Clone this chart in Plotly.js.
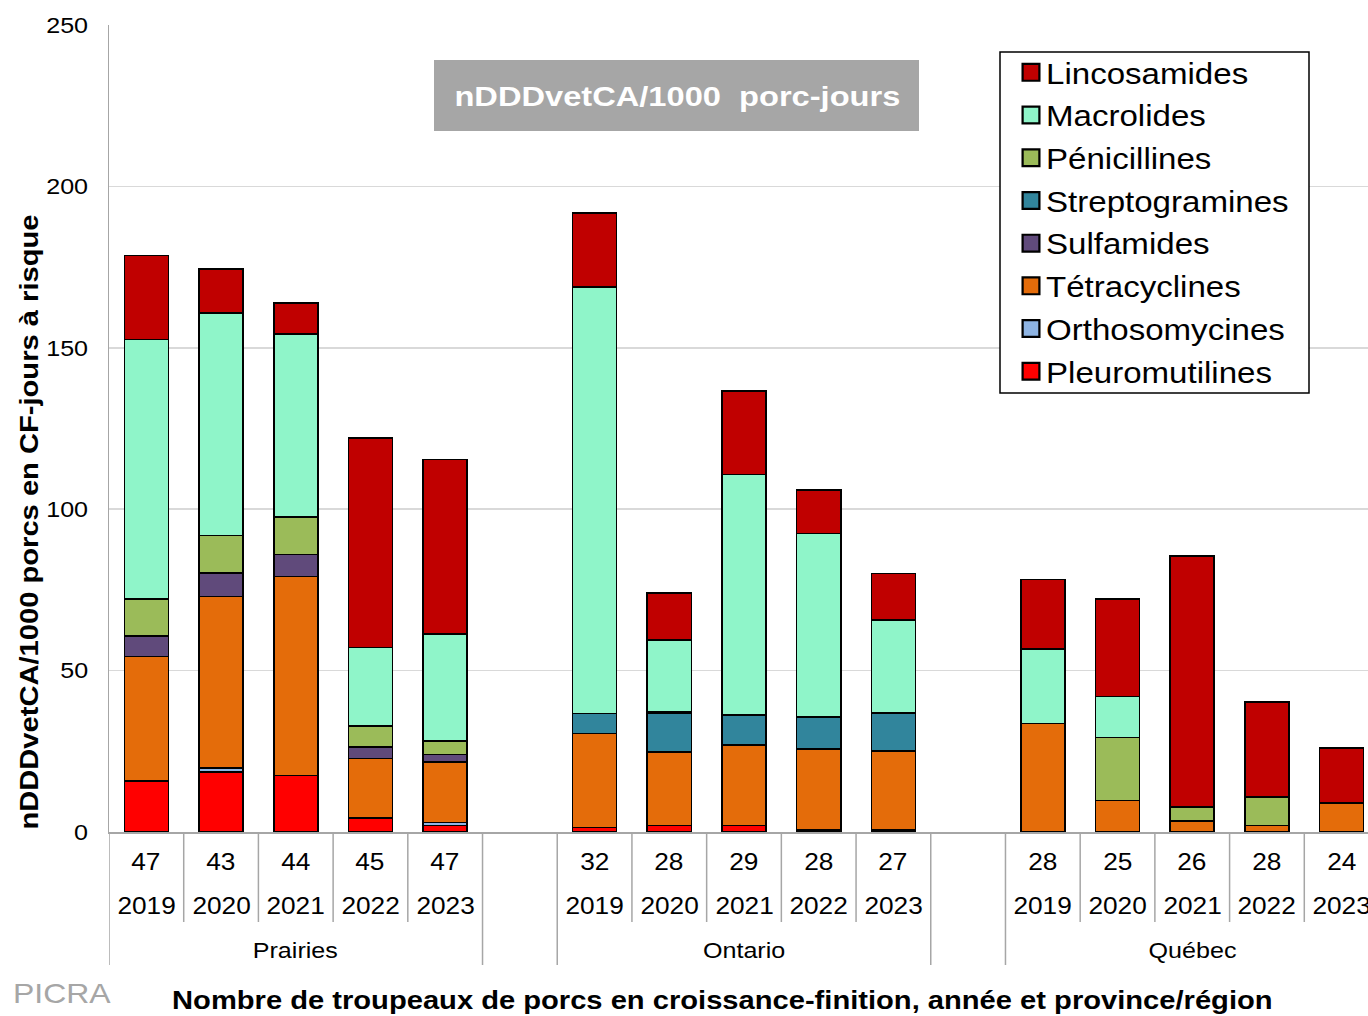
<!DOCTYPE html>
<html>
<head>
<meta charset="utf-8">
<script src="https://cdn.plot.ly/plotly-3.0.1.min.js"></script>
<style>
  html, body { margin: 0; padding: 0; overflow: hidden; background: #fff; }
  #chart { width: 1400px; height: 1016px; }
</style>
</head>
<body>
<div id="chart"></div>
<script>
// Regions, years and number of grower-finisher herds per region/year
const regions = ['Prairies', 'Ontario', 'Québec'];
const years = ['2019', '2020', '2021', '2022', '2023'];
const herds = [
  [47, 43, 44, 45, 47],
  [32, 28, 29, 28, 27],
  [28, 25, 26, 28, 24]
];

// nDDDvetCA/1000 pig-days per antimicrobial class
// order within each array: Prairies 2019-2023, Ontario 2019-2023, Québec 2019-2023
const pleuromutilines = [15.8, 18.6, 17.5, 4.4, 2.0,   1.4, 2.0, 2.0, 0.6, 0.6,   null, null, null, null, null];
const orthosomycines  = [null, 1.2, null, null, 1.0,   null, null, null, null, null,   null, null, null, null, null];
const tetracyclines   = [38.6, 53.2, 61.7, 18.4, 18.6,   29.1, 22.7, 25.0, 25.2, 24.5,   33.6, 9.7, 3.5, 2.0, 9.0];
const sulfamides      = [6.4, 7.3, 6.8, 3.6, 2.4,   null, null, null, null, null,   null, null, null, null, null];
const streptogramines = [null, null, null, null, null,   6.2, 12.1, 9.3, 9.9, 11.8,   null, null, null, null, null];
const penicillines    = [11.4, 11.6, 11.6, 6.5, 4.1,   null, 0.5, null, null, null,   null, 19.6, 4.2, 8.9, null];
const macrolides      = [80.4, 68.8, 56.7, 24.2, 33.3,   132.2, 22.1, 74.5, 56.8, 28.7,   23.1, 12.7, null, null, null];
const lincosamides    = [26.0, 13.8, 9.6, 64.9, 54.0,   22.9, 14.7, 25.9, 13.5, 14.5,   21.5, 30.1, 77.8, 29.4, 17.0];

// stacking order, bottom to top (legend lists them top to bottom)
const series = [
  { name: 'Pleuromutilines', values: pleuromutilines, color: '#ff0000' },
  { name: 'Orthosomycines',  values: orthosomycines,  color: '#8eb4e3' },
  { name: 'Tétracyclines',   values: tetracyclines,   color: '#e46c0a' },
  { name: 'Sulfamides',      values: sulfamides,      color: '#604a7b' },
  { name: 'Streptogramines', values: streptogramines, color: '#31859c' },
  { name: 'Pénicillines',    values: penicillines,    color: '#9bbb59' },
  { name: 'Macrolides',      values: macrolides,      color: '#8ff5c9' },
  { name: 'Lincosamides',    values: lincosamides,    color: '#c00000' }
];

// one empty slot between regions
const slotsPerRegion = years.length + 1;
const xPos = [];
regions.forEach((r, g) => years.forEach((y, i) => xPos.push(g * slotsPerRegion + i)));

const FONT = 'Liberation Sans, Arial, sans-serif';

const traces = series.map((s, idx) => ({
  type: 'bar',
  name: s.name,
  x: xPos,
  y: s.values,
  width: 0.59,
  legendgroup: s.name,
  legendrank: series.length - idx,
  marker: { color: s.color, line: { color: '#000', width: 1.6 } },
  hoverinfo: 'skip'
}));

// plot area: 1270 x 807 px, left edge at 109, bottom at 832
const plotLeft = 109, plotW = 1270, plotTop = 25, plotH = 807;
const px = p => (p - plotLeft) / plotW;
const py = p => (plotTop + plotH - p) / plotH;

const annotations = [];
const shapes = [];

regions.forEach((r, g) => {
  years.forEach((yr, i) => {
    const xv = g * slotsPerRegion + i;
    annotations.push({ x: xv, xref: 'x', y: py(862), yref: 'paper', text: String(herds[g][i]),
      showarrow: false, xanchor: 'center', yanchor: 'middle', font: { family: FONT, size: 23, color: '#000' } });
    annotations.push({ x: xv, xref: 'x', y: py(906), yref: 'paper', text: yr,
      showarrow: false, xanchor: 'center', yanchor: 'middle', font: { family: FONT, size: 23, color: '#000' } });
    if (i > 0) {
      shapes.push({ type: 'line', xref: 'x', yref: 'paper', x0: xv - 0.5, x1: xv - 0.5, y0: 0, y1: py(922),
        line: { color: '#a6a6a6', width: 1.5 } });
    }
  });
  const first = g * slotsPerRegion;
  annotations.push({ x: first + (years.length - 1) / 2, xref: 'x', y: py(950), yref: 'paper', text: r,
    showarrow: false, xanchor: 'center', yanchor: 'middle', font: { family: FONT, size: 22, color: '#000' } });
  [first - 0.5, first + years.length - 0.5].forEach(xv => {
    shapes.push({ type: 'line', xref: 'x', yref: 'paper', x0: xv, x1: xv, y0: 0, y1: py(965),
      line: { color: '#a6a6a6', width: 1.5 } });
  });
});

// grey title box inside the plot
shapes.push({ type: 'rect', xref: 'paper', yref: 'paper',
  x0: px(434), x1: px(919), y0: py(131), y1: py(60),
  fillcolor: '#a6a6a6', line: { width: 0 }, layer: 'above' });
annotations.push({ x: px(677), xref: 'paper', y: py(97), yref: 'paper',
  text: '<b>nDDDvetCA/1000\u00a0 porc-jours</b>', showarrow: false, xanchor: 'center', yanchor: 'middle',
  font: { family: FONT, size: 28, color: '#fff' } });

// legend frame
shapes.push({ type: 'rect', xref: 'paper', yref: 'paper',
  x0: px(1000), x1: px(1309), y0: py(393), y1: py(52),
  fillcolor: '#fff', line: { color: '#000', width: 1.5 }, layer: 'above' });

// axis titles and source tag
annotations.push({ x: px(29), xref: 'paper', y: py(522), yref: 'paper', textangle: -90,
  text: '<b>nDDDvetCA/1000 porcs en CF-jours à risque</b>', showarrow: false,
  xanchor: 'center', yanchor: 'middle', font: { family: FONT, size: 25, color: '#000' } });
annotations.push({ x: px(722), xref: 'paper', y: py(1000), yref: 'paper',
  text: '<b>Nombre de troupeaux de porcs en croissance-finition, année et province/région</b>', showarrow: false,
  xanchor: 'center', yanchor: 'middle', font: { family: FONT, size: 25, color: '#000' } });
annotations.push({ x: px(17), xref: 'paper', y: py(993), yref: 'paper', text: 'PICRA',
  showarrow: false, xanchor: 'left', yanchor: 'middle', font: { family: FONT, size: 28, color: '#a6a6a6' } });

const layout = {
  width: 1400,
  height: 1016,
  margin: { l: plotLeft, r: 1400 - plotLeft - plotW, t: plotTop, b: 1016 - plotTop - plotH },
  paper_bgcolor: '#fff',
  plot_bgcolor: '#fff',
  barmode: 'stack',
  font: { family: FONT, color: '#000' },
  xaxis: {
    range: [-0.5, regions.length * slotsPerRegion - 1.5],
    showticklabels: false,
    ticks: '',
    showgrid: false,
    zeroline: false,
    showline: true,
    linecolor: '#a6a6a6',
    linewidth: 1.5,
    fixedrange: true
  },
  yaxis: {
    range: [0, 250],
    tickvals: [0, 50, 100, 150, 200, 250],
    ticks: '',
    ticklabelstandoff: 15,
    tickfont: { family: FONT, size: 22, color: '#000' },
    showgrid: true,
    gridcolor: '#d9d9d9',
    gridwidth: 1.5,
    zeroline: false,
    showline: true,
    linecolor: '#a6a6a6',
    linewidth: 1.5,
    fixedrange: true
  },
  showlegend: true,
  legend: {
    x: px(1006),
    y: py(47),
    xanchor: 'left',
    yanchor: 'top',
    traceorder: 'grouped',
    tracegroupgap: 2,
    borderwidth: 0,
    bgcolor: 'rgba(0,0,0,0)',
    font: { family: FONT, size: 29, color: '#000' },
    itemwidth: 30
  },
  shapes: shapes,
  annotations: annotations
};

Plotly.newPlot('chart', traces, layout, { displayModeBar: false, staticPlot: true }).then(gd => {
  // the chart's typeface runs wide: stretch each label along its baseline
  gd.querySelectorAll('svg text').forEach(t => {
    if (!t.textContent.trim()) return;
    const bold = /bold/.test(t.innerHTML) || /bold/.test(t.getAttribute('style') || '');
    const k = bold ? 1.165 : 1.14;
    const len = t.getComputedTextLength();
    if (!len) return;
    t.setAttribute('textLength', (len * k).toFixed(1));
    t.setAttribute('lengthAdjust', 'spacingAndGlyphs');
  });
  // let the widened legend labels run past the legend's own clip box
  gd.querySelectorAll('.legend .scrollbox').forEach(s => s.removeAttribute('clip-path'));
  gd.querySelectorAll('.legend').forEach(s => s.removeAttribute('clip-path'));
  // larger legend swatches, set a little right of the default spot
  gd.querySelectorAll('.legendpoints path').forEach(p => {
    p.setAttribute('transform', 'translate(25,0) scale(1.4)');
  });
});
</script>
</body>
</html>
